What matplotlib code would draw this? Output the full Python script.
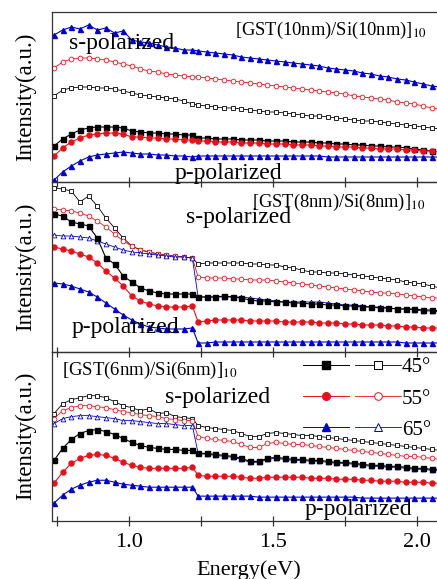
import numpy as np
import matplotlib
matplotlib.use("Agg")
import matplotlib.pyplot as plt
from matplotlib.lines import Line2D
from matplotlib.legend_handler import HandlerTuple
from matplotlib.ticker import MultipleLocator

plt.rcParams['font.family'] = ['Liberation Serif', 'DejaVu Serif']
plt.rcParams['mathtext.fontset'] = 'stix'

# ---------------- data (Energy in eV, intensity in a.u.) ----------------
energy = [0.74, 0.77, 0.80, 0.83, 0.86, 0.89, 0.92, 0.95, 0.98, 1.01, 1.04, 1.07,
          1.10, 1.13, 1.16, 1.19, 1.22,
          1.24, 1.27, 1.30, 1.33, 1.36, 1.39, 1.42, 1.45, 1.48, 1.51, 1.54, 1.57,
          1.60, 1.63, 1.66, 1.69, 1.72, 1.75, 1.78, 1.81, 1.84, 1.87, 1.90, 1.93,
          1.96, 1.99, 2.02, 2.05, 2.08]

# Panel 1: [GST(10nm)/Si(10nm)]10
p1_65_s = [147, 152, 155, 153, 157, 152, 154, 149, 151, 142, 140, 139, 137, 135, 134, 132, 132,
           131, 130, 129, 128, 127, 125, 124, 123, 122, 121, 120, 119, 118, 117, 116, 114, 113,
           112, 111, 109, 108, 106, 105, 103, 102, 100, 98, 96, 95]
p1_55_s = [114, 120, 123, 124, 124, 123, 122, 120, 118, 116, 113, 111, 110, 108, 107, 106, 105,
           105, 104, 103, 102, 101, 100, 99, 98, 97, 96, 95, 94, 93, 92, 91, 90, 89,
           88, 86, 85, 84, 83, 82, 80, 79, 78, 76, 74, 73]
p1_45_s = [86, 92, 94, 95, 95, 94, 94, 93, 91, 89, 87, 86, 85, 84, 83, 81, 78,
           77, 76, 75, 74, 74, 73, 72, 71, 70, 70, 69, 68, 67, 66, 66, 65, 64,
           63, 62, 61, 61, 60, 59, 58, 57, 56, 55, 54, 53]
p1_45_p = [36, 43, 48, 52, 54, 55, 55, 55, 54, 51, 50, 49, 49, 48, 48, 47, 47,
           44, 44, 43, 43, 43, 42, 42, 42, 41, 41, 41, 40, 40, 40, 39, 39, 38,
           38, 37, 37, 36, 36, 35, 35, 34, 33, 32, 31, 30]
p1_55_p = [26, 34, 40, 44, 47, 48, 49, 49, 48, 45, 45, 44, 44, 43, 43, 42, 42,
           41, 41, 40, 40, 40, 39, 39, 39, 38, 38, 38, 37, 37, 37, 36, 36, 35,
           35, 35, 34, 34, 33, 33, 33, 32, 32, 31, 31, 30]
p1_65_p = [2, 10, 16, 21, 25, 27, 28, 29, 30, 29, 28, 28, 27, 27, 26, 26, 25,
           26, 26, 26, 26, 26, 26, 26, 26, 26, 26, 26, 26, 26, 26, 26, 25, 25,
           25, 25, 25, 25, 25, 25, 25, 25, 25, 25, 25, 25]

# Panel 2: [GST(8nm)/Si(8nm)]10
p2_45_s = [164, 163, 161, 150, 156, 146, 134, 124, 114, 106, 102, 100, 98, 97, 96, 95, 94,
           88, 89, 89, 89, 89, 89, 88, 88, 87, 87, 85, 84, 82, 80, 80, 79, 79,
           78, 77, 76, 75, 74, 73, 72, 70, 69, 68, 66, 64]
p2_55_s = [143, 142, 141, 139, 136, 131, 125, 118, 111, 106, 102, 100, 98, 97, 96, 95, 94,
           75, 74, 74, 74, 73, 73, 72, 72, 72, 71, 70, 69, 68, 67, 66, 65, 64,
           63, 62, 61, 60, 59, 59, 58, 57, 56, 55, 54, 54]
p2_65_s = [117, 116, 116, 115, 114, 111, 108, 105, 102, 100, 99, 98, 97, 96, 95, 95, 94,
           55, 55, 55, 55, 55, 55, 54, 53, 52, 51, 50, 50, 50, 50, 50, 49, 48,
           47, 47, 46, 45, 45, 44, 43, 43, 42, 41, 41, 40]
p2_45_p = [138, 136, 130, 128, 126, 114, 94, 88, 76, 70, 64, 61, 59, 58, 58, 58, 58,
           55, 55, 55, 56, 55, 54, 52, 51, 51, 50, 50, 49, 49, 48, 48, 47, 47,
           46, 46, 45, 45, 44, 44, 43, 43, 43, 42, 42, 41]
p2_55_p = [105, 103, 101, 98, 95, 89, 81, 74, 66, 56, 51, 48, 46, 45, 45, 45, 46,
           30, 31, 32, 32, 32, 32, 31, 31, 31, 31, 30, 30, 30, 30, 29, 29, 29,
           28, 28, 27, 27, 27, 26, 26, 25, 25, 24, 24, 24]
p2_65_p = [69, 68, 66, 63, 60, 55, 49, 43, 37, 32, 28, 25, 24, 23, 23, 23, 24,
           9, 9, 10, 10, 10, 10, 10, 10, 10, 10, 10, 10, 10, 10, 10, 10, 10,
           10, 10, 10, 10, 10, 10, 10, 9, 9, 9, 9, 9]

# Panel 3: [GST(6nm)/Si(6nm)]10
p3_45_s = [108, 118, 122, 124, 126, 126, 124, 120, 116, 114, 111, 113, 108, 109, 105, 104, 103,
           96, 94, 93, 92, 91, 88, 85, 85, 88, 89, 88, 87, 86, 86, 85, 84, 83,
           82, 81, 80, 79, 78, 77, 76, 75, 74, 73, 72, 71]
p3_55_s = [103, 111, 114, 116, 116, 115, 114, 112, 110, 109, 107, 106, 105, 103, 102, 101, 101,
           85, 83, 82, 81, 80, 77, 74, 74, 78, 79, 78, 77, 77, 76, 75, 74, 73,
           72, 71, 70, 69, 68, 67, 66, 65, 65, 64, 63, 62]
p3_65_s = [98, 103, 105, 106, 106, 105, 104, 103, 101, 101, 100, 99, 98, 98, 97, 96, 96,
           68, 67, 66, 65, 64, 62, 59, 59, 62, 63, 62, 61, 61, 60, 60, 59, 58,
           58, 57, 56, 55, 55, 54, 54, 53, 52, 52, 51, 51]
p3_45_p = [61, 73, 82, 88, 91, 92, 90, 87, 83, 79, 76, 74, 73, 72, 72, 71, 71,
           68, 68, 67, 66, 65, 63, 60, 60, 63, 64, 63, 62, 62, 61, 61, 60, 59,
           59, 58, 57, 56, 56, 55, 55, 54, 53, 53, 52, 52]
p3_55_p = [38, 49, 58, 63, 66, 67, 66, 63, 59, 56, 54, 53, 53, 53, 53, 53, 54,
           46, 45, 45, 45, 45, 44, 43, 43, 44, 44, 44, 44, 44, 43, 43, 43, 42,
           42, 42, 41, 41, 40, 40, 40, 39, 39, 39, 38, 38]
p3_65_p = [18, 26, 32, 36, 39, 41, 41, 39, 37, 36, 35, 34, 34, 34, 34, 34, 34,
           25, 25, 25, 25, 25, 25, 25, 24, 24, 24, 24, 24, 24, 24, 24, 24, 24,
           24, 24, 23, 23, 23, 23, 23, 23, 23, 23, 23, 23]

sample_labels = [r"[GST(10nm)/Si(10nm)]$_{10}$",
                 r"[GST(8nm)/Si(8nm)]$_{10}$",
                 r"[GST(6nm)/Si(6nm)]$_{10}$"]
angle_labels = ["45°", "55°", "65°"]
x_ticks = [1.0, 1.5, 2.0]
x_tick_labels = ["1.0", "1.5", "2.0"]

# ---------------- styling ----------------
BLACK = "#000000"
RED = "#e8101a"
BLUE = "#0000d0"
W, H = 437, 579
fig = plt.figure(figsize=(W / 100, H / 100), dpi=100)

def ax_at(top_px, bot_px):
    left = 52 / W
    width = (446 - 52) / W
    return fig.add_axes([left, 1 - bot_px / H, width, (bot_px - top_px) / H])

axes = [ax_at(12, 182), ax_at(182, 352), ax_at(352, 521)]

filled = dict(lw=0.8, ms=3.6)
opened = dict(lw=0.6, ms=3.4, mfc="white", mew=0.6)

def draw(ax, s45, s55, s65, p45, p55, p65, top_filled_65=False):
    ax.plot(energy, s45, color=BLACK, marker="s", **opened)
    ax.plot(energy, s55, color=RED, marker="o", **opened)
    if top_filled_65:
        ax.plot(energy, s65, color=BLUE, marker="^", **filled)
    else:
        ax.plot(energy, s65, color=BLUE, marker="^", **opened)
    ax.plot(energy, p45, color=BLACK, marker="s", **filled)
    ax.plot(energy, p55, color=RED, marker="o", **filled)
    ax.plot(energy, p65, color=BLUE, marker="^", **filled)

draw(axes[0], p1_45_s, p1_55_s, p1_65_s, p1_45_p, p1_55_p, p1_65_p, top_filled_65=True)
draw(axes[1], p2_45_s, p2_55_s, p2_65_s, p2_45_p, p2_55_p, p2_65_p)
draw(axes[2], p3_45_s, p3_55_s, p3_65_s, p3_45_p, p3_55_p, p3_65_p)

for i, ax in enumerate(axes):
    ax.set_xlim(0.733, 2.1)
    ax.set_ylim(0, 170)
    ax.set_yticks([])
    ax.set_xticks(x_ticks)
    ax.xaxis.set_minor_locator(MultipleLocator(0.25))
    ax.tick_params(axis="x", which="both", direction="inout", length=7, width=0.9,
                   top=False, labelsize=16, pad=5, color="#333333")
    if i < 2:
        ax.set_xticklabels([])
    else:
        ax.set_xticklabels(x_tick_labels)
    for sp in ax.spines.values():
        sp.set_linewidth(0.9)
        sp.set_color("#333333")
    ax.patch.set_alpha(0)

axes[2].set_xlabel("Energy(eV)", fontsize=16, labelpad=6)

# y labels
for cy in (97, 267, 436):
    fig.text(26 / W, 1 - cy / H, "Intensity(a.u.)", rotation=90, ha="center",
             va="center", fontsize=16.5)

def ftext(xpx, ypx, s, size=17, ha="left"):
    fig.text(xpx / W, 1 - ypx / H, s, ha=ha, va="center", fontsize=size)

ftext(235, 30, sample_labels[0], size=13.3)
ftext(252, 202, sample_labels[1], size=13.3)
ftext(62, 370, sample_labels[2], size=13.5)
ftext(69, 43, "s-polarized")
ftext(175, 173, "p-polarized")
ftext(186, 218, "s-polarized")
ftext(72, 327, "p-polarized")
ftext(165, 398, "s-polarized")
ftext(305, 510, "p-polarized")

# legend
handles = []
for col, mk in ((BLACK, "s"), (RED, "o"), (BLUE, "^")):
    hf = Line2D([], [], color=col, marker=mk, lw=0.7, ms=5.5)
    ho = Line2D([], [], color=col, marker=mk, lw=0.6, ms=5.5, mfc="white", mew=0.7)
    handles.append((hf, ho))
axes[2].legend(handles, angle_labels, handler_map={tuple: HandlerTuple(ndivide=None, pad=0.25)},
               loc="upper left", bbox_to_anchor=((303 - 52) / 394, 0.965),
               frameon=False, fontsize=15, handlelength=4.7, handletextpad=0.05,
               borderpad=0, borderaxespad=0, labelspacing=0.55)

fig.savefig("out.png", dpi=100)
